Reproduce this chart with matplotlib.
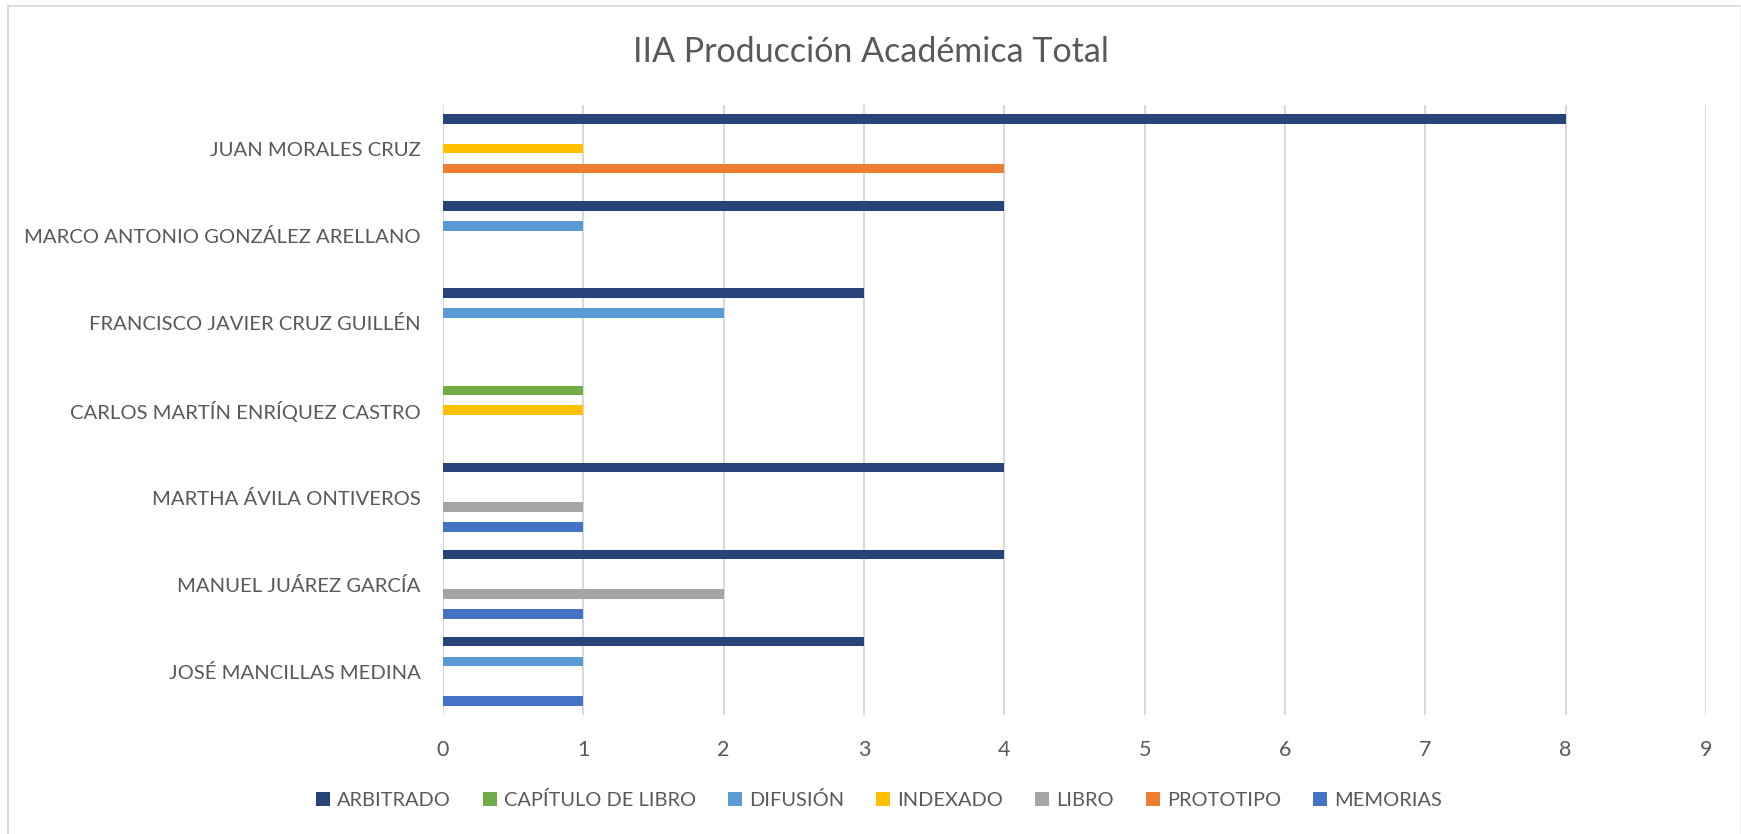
import numpy as np
import matplotlib.pyplot as plt
from matplotlib.lines import Line2D

plt.rcParams['font.family'] = ['Lato', 'DejaVu Sans']

title = "IIA Producción Académica Total"
categories = ["JUAN MORALES CRUZ", "MARCO ANTONIO GONZÁLEZ ARELLANO",
              "FRANCISCO JAVIER CRUZ GUILLÉN", "CARLOS MARTÍN ENRÍQUEZ CASTRO",
              "MARTHA ÁVILA ONTIVEROS", "MANUEL JUÁREZ GARCÍA", "JOSÉ MANCILLAS MEDINA"]
series = ["ARBITRADO", "CAPÍTULO DE LIBRO", "DIFUSIÓN", "INDEXADO",
          "LIBRO", "PROTOTIPO", "MEMORIAS"]
arbitrado = [8, 4, 3, 0, 4, 4, 3]
capitulo = [0, 0, 0, 1, 0, 0, 0]
difusion = [0, 1, 2, 0, 0, 0, 1]
indexado = [1, 0, 0, 1, 0, 0, 0]
libro = [0, 0, 0, 0, 1, 2, 0]
prototipo = [4, 0, 0, 0, 0, 0, 0]
memorias = [0, 0, 0, 0, 1, 1, 1]
colors = ["#264478", "#70AD47", "#5B9BD5", "#FFC000", "#A5A5A5", "#ED7D31", "#4472C4"]
x_ticks = list(range(0, 10))

values = [arbitrado, capitulo, difusion, indexado, libro, prototipo, memorias]
text_color = "#595959"
W, H = 1741, 834

fig = plt.figure(figsize=(W / 100, H / 100), dpi=100)
ax = fig.add_axes([443 / W, 1 - 715 / H, (1706 - 443) / W, (715 - 105) / H])

group = 0.795
slot = group / len(series)
y = np.arange(len(categories))
for j, (name, vals, c) in enumerate(zip(series, values, colors)):
    pos = y - group / 2 + (j + 0.5) * slot
    ax.barh(pos, vals, height=slot * 0.95, color=c, label=name, linewidth=0, zorder=3)

ax.set_xlim(0, 9)
ax.set_ylim(len(categories) - 0.5, -0.5)
ax.set_xticks(x_ticks)
ax.set_yticks(y)
ax.set_yticklabels(categories)
ax.grid(axis='x', color="#D9D9D9", linewidth=1.5, zorder=0)
ax.grid(axis='y', visible=False)
for s in ax.spines.values():
    s.set_visible(False)
ax.tick_params(axis='x', length=0, pad=18, labelsize=15.5, labelcolor=text_color)
ax.tick_params(axis='y', length=0, pad=16, labelsize=14.6, labelcolor=text_color)

fig.text(0.5, 1 - 52 / H, title, ha='center', va='center', fontsize=24.5, color=text_color)

fig.legend(loc='center', bbox_to_anchor=(879 / W, 1 - 800 / H), ncol=7, frameon=False,
           fontsize=14.4, labelcolor=text_color, handlelength=0.7, handleheight=0.7,
           handletextpad=0.35, columnspacing=1.6)

# chart frame: left and top visible, right very faint
fig.lines.append(Line2D([7.5 / W, 7.5 / W], [0, 1 - 6 / H], transform=fig.transFigure,
                        color="#D9D9D9", linewidth=1.5))
fig.lines.append(Line2D([7.5 / W, 1740 / W], [1 - 6 / H, 1 - 6 / H], transform=fig.transFigure,
                        color="#D9D9D9", linewidth=1.2))
fig.lines.append(Line2D([1740 / W, 1740 / W], [0, 1 - 6 / H], transform=fig.transFigure,
                        color="#F0F0F0", linewidth=1))

fig.savefig("out.png", dpi=100)
